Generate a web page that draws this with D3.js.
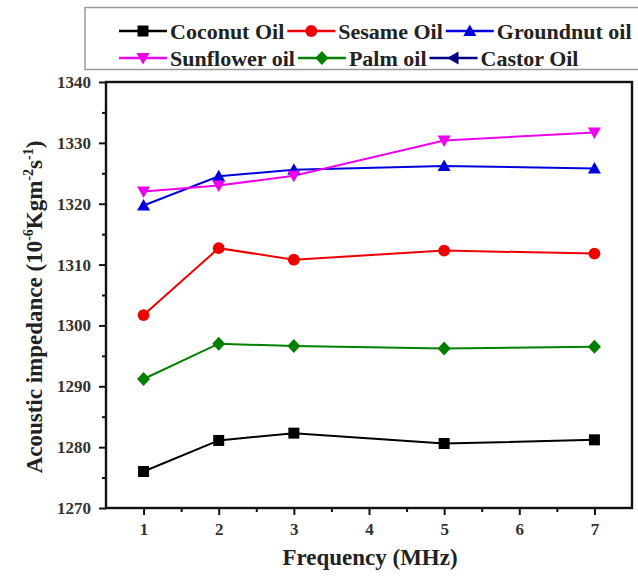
<!DOCTYPE html>
<html>
<head>
<meta charset="utf-8">
<script src="https://cdn.jsdelivr.net/npm/d3@7"></script>
<style>
  body { margin: 0; background: #fff; }
  svg { display: block; }
  svg text { font-family: "Liberation Serif", "DejaVu Serif", serif; font-weight: bold; }
</style>
</head>
<body>
<svg id="chart" width="638" height="580"></svg>
<script>
/* -------------------------------------------------------------------------- */
// data
const freqs = [1, 2, 3, 5, 7];

const coconut   = [1276.0, 1281.1, 1282.3, 1280.6, 1281.2];
const sesame    = [1301.7, 1312.7, 1310.8, 1312.3, 1311.8];
const groundnut = [1319.7, 1324.5, 1325.6, 1326.2, 1325.8];
const sunflower = [1322.0, 1323.0, 1324.6, 1330.4, 1331.7];
const palm      = [1291.2, 1297.0, 1296.6, 1296.2, 1296.5];
const castor    = [];   // listed in the legend, no points inside the plotted range

const yTicks = [1270, 1280, 1290, 1300, 1310, 1320, 1330, 1340];
const xTicks = [1, 2, 3, 4, 5, 6, 7];

let series = [
  { name: 'Coconut Oil',   values: coconut,   col: '#000000', sym: 'square' },
  { name: 'Sesame Oil',    values: sesame,    col: '#ee0000', sym: 'circle' },
  { name: 'Groundnut oil', values: groundnut, col: '#0000dd', sym: 'up' },
  { name: 'Sunflower oil', values: sunflower, col: '#ee00ee', sym: 'down' },
  { name: 'Palm oil',      values: palm,      col: '#008000', sym: 'diamond' },
  { name: 'Castor Oil',    values: castor,    col: '#000080', sym: 'left' }
];

/* -------------------------------------------------------------------------- */
const serif = '"Liberation Serif", "DejaVu Serif", serif';
const svg = d3.select('#chart');
const m = { left: 106, right: 632, top: 82, bottom: 508 };

const x = d3.scaleLinear().domain([0.5, 7.5]).range([m.left, m.right]);
const y = d3.scaleLinear().domain([1270, 1340]).range([m.bottom, m.top]);

// marker paths, centred on 0,0
function symbolPath(sym) {
  switch (sym) {
    case 'square':  return 'M-5.5,-5.5H5.5V5.5H-5.5Z';
    case 'circle':  return d3.symbol(d3.symbolCircle, 110)();
    case 'up':      return 'M0,-6.5L6.5,5L-6.5,5Z';
    case 'down':    return 'M0,6.5L6.5,-5L-6.5,-5Z';
    case 'diamond': return 'M0,-7L6.5,0L0,7L-6.5,0Z';
    case 'left':    return 'M-6.5,0L5,-6.5L5,6.5Z';
  }
}

// --------------------------------------------------
// axes
let xAxis = d3.axisBottom(x).tickValues(xTicks).tickSize(7).tickPadding(8).tickFormat(d3.format('d'));
let xMinor = d3.axisBottom(x).tickValues(d3.range(1.5, 7.5, 1)).tickSize(4).tickFormat('');
let yAxis = d3.axisLeft(y).tickValues(yTicks).tickSize(7).tickPadding(8).tickFormat(d3.format('d'));
let yMinor = d3.axisLeft(y).tickValues(d3.range(1275, 1340, 10)).tickSize(4).tickFormat('');

function styleAxis(g) {
  g.attr('font-family', null);
  g.select('.domain').remove();
  g.selectAll('line').attr('stroke', '#111').attr('stroke-width', 2);
  g.selectAll('text').attr('fill', '#333').style('font-size', '17px')
    .style('font-family', serif).style('font-weight', 'bold');
}

svg.append('g').attr('transform', `translate(0,${m.bottom})`).call(xAxis).call(styleAxis);
svg.append('g').attr('transform', `translate(0,${m.bottom})`).call(xMinor).call(styleAxis);
svg.append('g').attr('transform', `translate(${m.left},0)`).call(yAxis).call(styleAxis);
svg.append('g').attr('transform', `translate(${m.left},0)`).call(yMinor).call(styleAxis);

// frame
svg.append('rect')
  .attr('x', m.left).attr('y', m.top)
  .attr('width', m.right - m.left).attr('height', m.bottom - m.top)
  .attr('fill', 'none').attr('stroke', '#111').attr('stroke-width', 2.4);

// --------------------------------------------------
// curves
const line = d3.line().x((d, i) => x(freqs[i])).y(d => y(d));

series.forEach(s => {
  if (!s.values.length) return;
  svg.append('path').datum(s.values)
    .attr('d', line)
    .attr('fill', 'none').attr('stroke', s.col).attr('stroke-width', 2);
});
series.forEach(s => {
  svg.append('g').selectAll('path')
    .data(s.values)
    .enter().append('path')
    .attr('d', symbolPath(s.sym))
    .attr('transform', (d, i) => `translate(${x(freqs[i])},${y(d)})`)
    .attr('fill', s.col);
});

// --------------------------------------------------
// axis titles
svg.append('text')
  .attr('x', 370).attr('y', 565)
  .attr('text-anchor', 'middle').style('font-size', '23px').style('font-family', serif)
  .attr('fill', '#222')
  .text('Frequency (MHz)');

let yt = svg.append('text')
  .attr('transform', `translate(42,${(m.top + m.bottom) / 2 + 12}) rotate(-90)`)
  .attr('text-anchor', 'middle').style('font-size', '23px').style('font-family', serif)
  .attr('fill', '#222');
yt.append('tspan').text('Acoustic impedance (10');
yt.append('tspan').attr('dy', -9).style('font-size', '14px').text('-6');
yt.append('tspan').attr('dy', 9).text('Kgm');
yt.append('tspan').attr('dy', -9).style('font-size', '14px').text('-2');
yt.append('tspan').attr('dy', 9).text('s');
yt.append('tspan').attr('dy', -9).style('font-size', '14px').text('-1');
yt.append('tspan').attr('dy', 9).text(')');

// --------------------------------------------------
// legend
svg.append('rect')
  .attr('x', 85).attr('y', 7.5).attr('width', 600).attr('height', 62)
  .attr('fill', '#fff').attr('stroke', '#999').attr('stroke-width', 1.5);

let rows = [series.slice(0, 3), series.slice(3, 6)];
rows.forEach((row, r) => {
  let cy = 31 + r * 27;
  let cx = 119;
  row.forEach(s => {
    let g = svg.append('g');
    g.append('line').attr('x1', cx).attr('x2', cx + 48).attr('y1', cy).attr('y2', cy)
      .attr('stroke', s.col).attr('stroke-width', 2.4);
    g.append('path').attr('d', symbolPath(s.sym))
      .attr('transform', `translate(${cx + 24},${cy})`).attr('fill', s.col);
    let t = g.append('text').attr('x', cx + 51).attr('y', cy + 7.5)
      .style('font-size', '22px').style('font-family', serif).attr('fill', '#222').text(s.name);
    cx += 51 + t.node().getComputedTextLength() + 3;
  });
});
</script>
</body>
</html>
